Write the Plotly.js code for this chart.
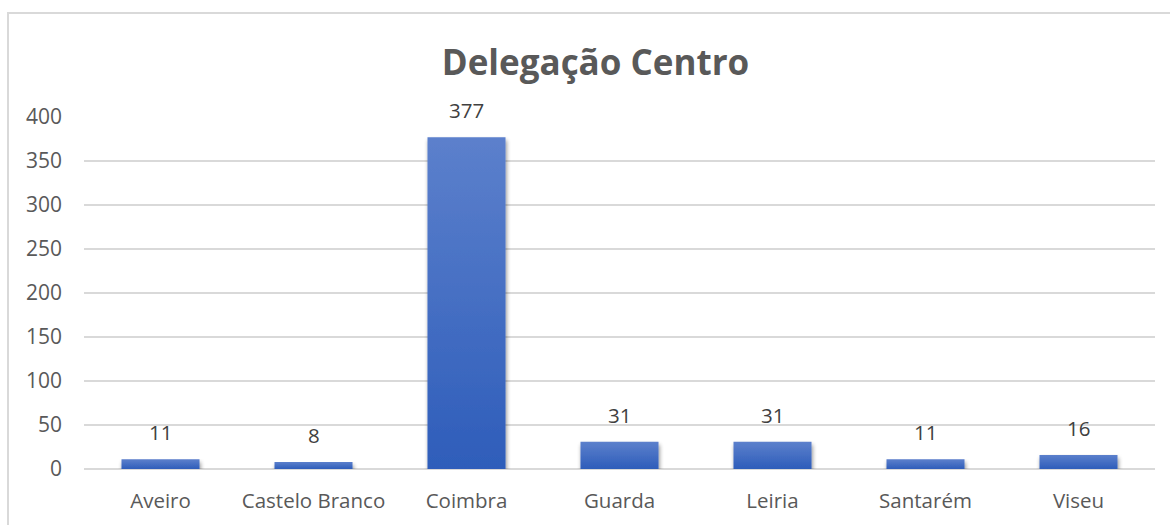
<!DOCTYPE html>
<html>
<head>
<meta charset="utf-8">
<script src="https://cdn.plot.ly/plotly-3.0.1.min.js"></script>
<style>
html,body{margin:0;padding:0;background:#fff;overflow:hidden;}
#chart{position:absolute;left:0;top:0;width:1170px;height:525px;}
#frame{position:absolute;left:7px;top:12px;width:1200px;height:560px;border:2px solid #d9d9d9;pointer-events:none;box-sizing:border-box;}
</style>
</head>
<body>
<div id="chart"></div>
<div id="frame"></div>
<script>
const categories = ["Aveiro", "Castelo Branco", "Coimbra", "Guarda", "Leiria", "Santarém", "Viseu"];
const values = [11, 8, 377, 31, 31, 11, 16];
const yTicks = [0, 50, 100, 150, 200, 250, 300, 350, 400];
const chartTitle = "Delegação Centro";

const FONT = "Open Sans, Noto Sans, sans-serif";

const trace = {
  type: "bar",
  x: categories,
  y: values,
  marker: {color: "#4472c4", line: {width: 0}},
  hoverinfo: "x+y"
};

const annotations = categories.map((c, i) => ({
  x: c, y: values[i], xref: "x", yref: "y",
  text: String(values[i]), showarrow: false,
  yanchor: "bottom", yshift: 11,
  font: {family: FONT, size: 20.5, color: "#404040"}
}));

const layout = {
  width: 1170, height: 525,
  margin: {l: 84, r: 15, t: 117, b: 56},
  paper_bgcolor: "#ffffff",
  plot_bgcolor: "#ffffff",
  bargap: 0.49,
  showlegend: false,
  title: {
    text: "<b>" + chartTitle + "</b>",
    font: {family: FONT, size: 35, color: "#595959"},
    x: 0.509, xanchor: "center", y: 0.88, yanchor: "middle"
  },
  xaxis: {
    type: "category",
    showgrid: false, showline: false, zeroline: false, ticks: "",
    tickfont: {family: FONT, size: 20.5, color: "#595959"},
    ticklabelstandoff: 17
  },
  yaxis: {
    range: [0, 400],
    tickvals: yTicks,
    ticktext: yTicks.map(String),
    showgrid: true, gridcolor: "#d9d9d9", gridwidth: 1.5,
    zeroline: true, zerolinecolor: "#d9d9d9", zerolinewidth: 2,
    showline: false, ticks: "",
    tickfont: {family: FONT, size: 21, color: "#595959"},
    ticklabelstandoff: 21
  },
  annotations: annotations
};

function styleBars() {
  const svg = document.querySelector("#chart .main-svg");
  if (!svg) return;
  const ns = "http://www.w3.org/2000/svg";
  let defs = svg.querySelector("defs#customdefs");
  if (!defs) {
    defs = document.createElementNS(ns, "defs");
    defs.setAttribute("id", "customdefs");
    defs.innerHTML =
      '<linearGradient id="barGrad" x1="0" y1="0" x2="0" y2="1">' +
      '<stop offset="0" stop-color="#5c80cc"/>' +
      '<stop offset="1" stop-color="#2e5dba"/></linearGradient>' +
      '<filter id="barShadow" x="-20%" y="-20%" width="140%" height="160%">' +
      '<feGaussianBlur in="SourceAlpha" stdDeviation="2.2"/>' +
      '<feOffset dx="1" dy="2.5" result="ob"/>' +
      '<feComponentTransfer><feFuncA type="linear" slope="0.45"/></feComponentTransfer>' +
      '<feMerge><feMergeNode/><feMergeNode in="SourceGraphic"/></feMerge></filter>';
    svg.insertBefore(defs, svg.firstChild);
  }
  document.querySelectorAll("#chart .trace.bars .point path").forEach(p => {
    p.style.fill = "url(#barGrad)";
    p.setAttribute("filter", "url(#barShadow)");
  });
}

Plotly.newPlot("chart", [trace], layout, {displayModeBar: false, staticPlot: true}).then(styleBars);
</script>
</body>
</html>
